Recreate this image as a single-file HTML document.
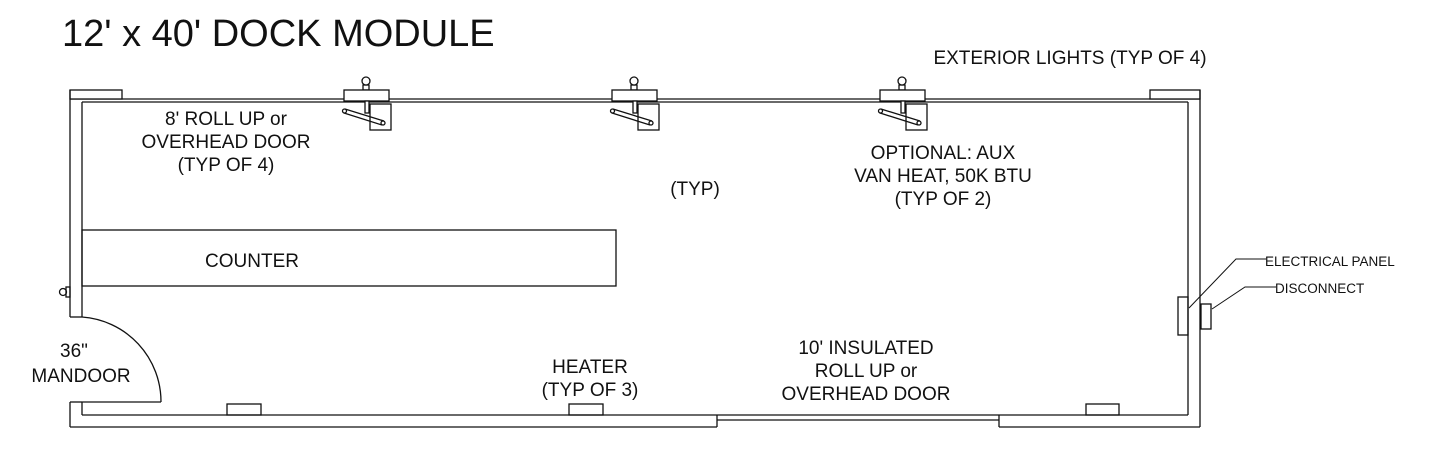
<!DOCTYPE html>
<html><head><style>
body{margin:0;background:#fff;}
svg text{font-family:"Liberation Sans",Arial,sans-serif;fill:#111;}
</style></head><body>
<svg width="1430" height="467" viewBox="0 0 1430 467" xmlns="http://www.w3.org/2000/svg">
<defs>
<g id="u" fill="#fff" stroke="#111" stroke-width="1.3">
  <rect x="19" y="85" width="6" height="5"/>
  <circle cx="22" cy="81" r="4"/>
  <rect x="0" y="90" width="45" height="11"/>
  <rect x="26" y="104" width="21" height="26"/>
  <rect x="21" y="101" width="4" height="12"/>
  <line x1="1" y1="109" x2="40" y2="121"/>
  <line x1="0" y1="113" x2="38" y2="125"/>
  <circle cx="0.5" cy="111" r="2"/>
  <circle cx="39" cy="123" r="2"/>
</g>
</defs>
<text x="62" y="46" font-size="38">12' x 40' DOCK MODULE</text>
<g fill="none" stroke="#111" stroke-width="1.3">
  <line x1="70" y1="99" x2="1200" y2="99"/>
  <line x1="82" y1="102" x2="1188" y2="102"/>
  <rect x="70" y="90" width="52" height="9" fill="#fff"/>
  <rect x="1150" y="90" width="50" height="9" fill="#fff"/>
  <line x1="70" y1="90" x2="70" y2="317"/>
  <line x1="70" y1="317" x2="82" y2="317"/>
  <line x1="82" y1="102" x2="82" y2="317"/>
  <path d="M82 317 A85 85 0 0 1 161 402"/>
  <line x1="82" y1="402" x2="161" y2="402"/>
  <line x1="70" y1="402" x2="82" y2="402"/>
  <line x1="70" y1="402" x2="70" y2="427"/>
  <line x1="82" y1="402" x2="82" y2="415"/>
  <line x1="82" y1="415" x2="1188" y2="415"/>
  <line x1="70" y1="427" x2="717" y2="427"/>
  <line x1="717" y1="415" x2="717" y2="427"/>
  <line x1="717" y1="420" x2="999" y2="420"/>
  <line x1="999" y1="415" x2="999" y2="427"/>
  <line x1="999" y1="427" x2="1200" y2="427"/>
  <line x1="1188" y1="102" x2="1188" y2="415"/>
  <line x1="1200" y1="90" x2="1200" y2="427"/>
  <rect x="227" y="404" width="34" height="11"/>
  <rect x="569" y="404" width="34" height="11"/>
  <rect x="1086" y="404" width="33" height="11"/>
  <rect x="82" y="230" width="534" height="56"/>
  <rect x="1178" y="297" width="10" height="38"/>
  <rect x="1201" y="304" width="10" height="25"/>
  <polyline points="1189,308 1236,259 1266,259" stroke-width="1"/>
  <polyline points="1212,309 1245,287 1276,287" stroke-width="1"/>
  <circle cx="63" cy="292" r="3.5"/>
  <rect x="66" y="287" width="4" height="10"/>
</g>
<use href="#u" x="344" y="0"/>
<use href="#u" x="612" y="0"/>
<use href="#u" x="880" y="0"/>
<g font-size="19" text-anchor="middle">
  <text x="226" y="125">8' ROLL UP or</text>
  <text x="226" y="148">OVERHEAD DOOR</text>
  <text x="226" y="171">(TYP OF 4)</text>
  <text x="1070" y="64">EXTERIOR LIGHTS (TYP OF 4)</text>
  <text x="943" y="159">OPTIONAL: AUX</text>
  <text x="943" y="182">VAN HEAT, 50K BTU</text>
  <text x="943" y="205">(TYP OF 2)</text>
  <text x="695" y="195">(TYP)</text>
  <text x="252" y="267">COUNTER</text>
  <text x="74" y="357">36"</text>
  <text x="81" y="382">MANDOOR</text>
  <text x="590" y="373">HEATER</text>
  <text x="590" y="396">(TYP OF 3)</text>
  <text x="866" y="354">10' INSULATED</text>
  <text x="866" y="377">ROLL UP or</text>
  <text x="866" y="400">OVERHEAD DOOR</text>
</g>
<g font-size="13.5">
  <text x="1265" y="266">ELECTRICAL PANEL</text>
  <text x="1275" y="293">DISCONNECT</text>
</g>
</svg>
</body></html>
